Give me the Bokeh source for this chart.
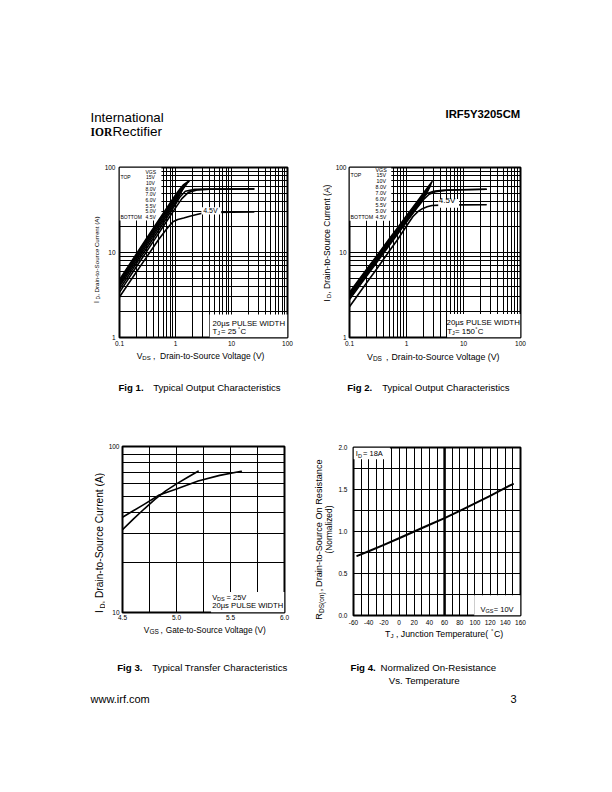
import math
from bokeh.plotting import figure
from bokeh.models import FixedTicker, CustomJSTickFormatter, Label, Span
from bokeh.layouts import row, column
from bokeh.embed import file_html
from bokeh.resources import INLINE

FONT = "Liberation Sans"
ROT = math.pi / 2

# ---------------- data: Fig 1 (TJ = 25 C) ----------------
VDS_25_15V = [0.1, 0.2, 0.3, 0.5, 0.7, 1.0, 1.2, 1.4, 1.6, 1.75]
ID_25_15V = [4.8, 9.6, 14.4, 24.0, 33.5, 47.5, 56.0, 63.0, 67.0, 69.0]
VDS_25_10V = [0.1, 0.2, 0.3, 0.5, 0.7, 1.0, 1.2, 1.4, 1.55, 1.7]
ID_25_10V = [4.6, 9.2, 13.8, 23.0, 32.0, 45.5, 54.0, 61.0, 65.0, 67.5]
VDS_25_8V = [0.1, 0.2, 0.3, 0.5, 0.7, 1.0, 1.2, 1.4, 1.6]
ID_25_8V = [4.4, 8.8, 13.2, 22.0, 30.6, 43.5, 52.0, 59.0, 64.5]
VDS_25_7V = [0.1, 0.2, 0.3, 0.5, 0.7, 1.0, 1.2, 1.4, 1.55]
ID_25_7V = [4.2, 8.4, 12.5, 20.8, 29.0, 41.5, 50.0, 57.5, 63.0]
VDS_25_6V = [0.1, 0.2, 0.3, 0.5, 0.7, 1.0, 1.2, 1.45]
ID_25_6V = [4.0, 7.9, 11.8, 19.6, 27.4, 39.0, 48.0, 61.0]
VDS_25_5V5 = [0.1, 0.2, 0.3, 0.5, 0.7, 1.0, 1.2, 1.5, 2.2, 4.0, 10.0, 25.0]
ID_25_5V5 = [3.7, 7.4, 11.0, 18.3, 25.6, 37.0, 45.0, 52.5, 55.3, 55.6, 55.8, 56.0]
VDS_25_5V = [0.1, 0.2, 0.3, 0.5, 0.7, 1.0, 1.3, 1.7, 2.5, 4.0, 10.0, 25.0]
ID_25_5V = [3.4, 6.8, 10.1, 16.8, 23.5, 33.5, 43.0, 51.0, 54.6, 55.4, 55.7, 55.9]
VDS_25_4V5 = [0.1, 0.2, 0.3, 0.5, 0.7, 0.9, 1.1, 1.4, 1.8, 2.4, 3.0, 5.0, 10.0, 25.0]
ID_25_4V5 = [3.0, 5.9, 8.7, 14.2, 19.0, 23.0, 24.5, 25.5, 26.7, 28.0, 29.0, 29.6, 29.8, 30.0]

# ---------------- data: Fig 2 (TJ = 150 C) ----------------
VDS_150_15V = [0.1, 0.2, 0.3, 0.5, 0.7, 1.0, 1.5, 2.0, 2.5, 2.8]
ID_150_15V = [3.4, 6.35, 9.1, 14.5, 19.6, 27.0, 38.9, 50.4, 61.6, 68.0]
VDS_150_10V = [0.1, 0.2, 0.3, 0.5, 0.7, 1.0, 1.5, 2.0, 2.5, 2.7]
ID_150_10V = [3.28, 6.13, 8.78, 14.0, 18.9, 26.0, 37.5, 48.6, 59.4, 64.5]
VDS_150_8V = [0.1, 0.2, 0.3, 0.5, 0.7, 1.0, 1.5, 2.0, 2.4, 2.65]
ID_150_8V = [3.16, 5.9, 8.46, 13.5, 18.2, 25.1, 36.2, 46.9, 55.5, 62.0]
VDS_150_7V = [0.1, 0.2, 0.3, 0.5, 0.7, 1.0, 1.5, 2.0, 2.3, 2.55]
ID_150_7V = [3.06, 5.7, 8.2, 13.0, 17.6, 24.3, 35.0, 45.4, 52.5, 59.0]
VDS_150_6V = [0.1, 0.2, 0.3, 0.5, 0.7, 1.0, 1.5, 2.0, 2.3, 2.45]
ID_150_6V = [2.96, 5.5, 7.9, 12.6, 17.0, 23.5, 33.8, 43.8, 51.0, 56.0]
VDS_150_5V5 = [0.1, 0.2, 0.3, 0.5, 0.7, 1.0, 1.5, 1.9, 2.3, 3.0, 4.2, 8.0, 25.0]
ID_150_5V5 = [3.1, 5.8, 8.3, 13.2, 17.8, 24.5, 35.5, 44.0, 49.5, 52.5, 53.8, 54.8, 55.5]
VDS_150_5V = [0.1, 0.2, 0.3, 0.5, 0.7, 1.0, 1.5, 2.0, 2.5, 3.2, 5.0, 10.0, 25.0]
ID_150_5V = [2.8, 5.3, 7.6, 12.2, 16.5, 22.8, 33.0, 42.0, 48.5, 52.0, 54.0, 54.8, 55.4]
VDS_150_4V5 = [0.1, 0.2, 0.3, 0.5, 0.7, 1.0, 1.3, 1.6, 1.9, 2.3, 2.8, 4.0, 8.0, 25.0]
ID_150_4V5 = [2.3, 4.4, 6.4, 10.4, 14.2, 20.5, 26.5, 30.5, 32.8, 34.5, 35.7, 36.1, 36.3, 36.5]

# ---------------- data: Fig 3 (transfer) ----------------
VGS_TJ25 = [4.5, 4.6, 4.7, 4.8, 4.9, 5.0, 5.1, 5.2]
ID_TJ25 = [31.6, 36.5, 42.0, 48.0, 54.0, 59.5, 65.0, 71.0]
VGS_TJ150 = [4.5, 4.6, 4.7, 4.84, 5.0, 5.2, 5.4, 5.6]
ID_TJ150 = [37.5, 41.0, 44.8, 51.0, 55.5, 62.0, 67.0, 71.0]

# ---------------- data: Fig 4 (normalized RDS(on)) ----------------
TJ_C = [-55, -40, -20, 0, 20, 40, 60, 80, 100, 120, 140, 150]
RDS_NORM = [0.71, 0.765, 0.84, 0.92, 1.0, 1.08, 1.16, 1.245, 1.335, 1.425, 1.52, 1.565]

# ---------------- ticks ----------------
LOG_X_MAJOR = [0.1, 1, 10, 100]
LOG_X_MINOR = [0.2, 0.3, 0.4, 0.5, 0.6, 0.7, 0.8, 0.9, 2, 3, 4, 5, 6, 7, 8, 9,
               20, 30, 40, 50, 60, 70, 80, 90]
LOG_Y_MAJOR = [1, 10, 100]
LOG_Y_MINOR = [2, 3, 4, 5, 6, 7, 8, 9, 20, 30, 40, 50, 60, 70, 80, 90]
F3_X_MAJOR = [4.5, 5.0, 5.5, 6.0]
F3_X_MINOR = [4.75, 5.25, 5.75]
F3_Y_MAJOR = [10, 100]
F3_Y_MINOR = [20, 30, 40, 50, 60, 70, 80, 90]
F4_X_MAJOR = [-60, -40, -20, 0, 20, 40, 60, 80, 100, 120, 140, 160]
F4_X_MINOR = [-50, -30, -10, 10, 30, 50, 70, 90, 110, 130, 150]
F4_Y_MAJOR = [0.0, 0.5, 1.0, 1.5, 2.0]
F4_Y_MINOR = [0.25, 0.75, 1.25, 1.75]


def make_fig(w, h, mbl, mbr, mbt, mbb, xr, yr, xt="linear", yt="linear"):
    p = figure(width=w, height=h, x_range=xr, y_range=yr, x_axis_type=xt, y_axis_type=yt,
               output_backend="svg", toolbar_location=None,
               min_border_left=mbl, min_border_right=mbr,
               min_border_top=mbt, min_border_bottom=mbb)
    p.background_fill_color = "white"
    p.border_fill_color = "white"
    p.outline_line_color = "black"
    p.outline_line_width = 2
    return p


def strip(w, h):
    p = figure(width=w, height=h, x_range=(0, w), y_range=(h, 0),
               output_backend="svg", toolbar_location=None,
               x_axis_location=None, y_axis_location=None, min_border=0)
    p.outline_line_color = None
    p.grid.visible = False
    p.background_fill_color = "white"
    p.border_fill_color = "white"
    return p


def style(p, xmaj, xmin, ymaj, ymin, xfmt, yfmt, xst=3, yst=4, fs="6.5px"):
    p.xaxis[0].ticker = FixedTicker(ticks=xmaj, minor_ticks=xmin)
    p.yaxis[0].ticker = FixedTicker(ticks=ymaj, minor_ticks=ymin)
    p.xaxis[0].formatter = CustomJSTickFormatter(code=xfmt)
    p.yaxis[0].formatter = CustomJSTickFormatter(code=yfmt)
    for ax in (p.xaxis[0], p.yaxis[0]):
        ax.axis_line_color = None
        ax.major_tick_line_color = None
        ax.minor_tick_line_color = None
        ax.major_tick_in = 0
        ax.major_tick_out = 0
        ax.minor_tick_in = 0
        ax.minor_tick_out = 0
        ax.major_label_text_font = FONT
        ax.major_label_text_font_size = fs
        ax.major_label_text_color = "black"
    p.xaxis[0].major_label_standoff = xst
    p.yaxis[0].major_label_standoff = yst
    for g in (p.xgrid[0], p.ygrid[0]):
        g.grid_line_color = "black"
        g.grid_line_width = 1
        g.minor_grid_line_color = "black"
        g.minor_grid_line_width = 1


def mask(p, l, r, b, t):
    p.quad(left=[l], right=[r], bottom=[b], top=[t], fill_color="white", line_color=None)


def curve(p, xs, ys, w=1.6):
    p.line(xs, ys, line_color="black", line_width=w, line_join="round", line_cap="round")


def add_text(p, origin, items):
    ox, oy = origin
    for it in items:
        px, py, text, size = it[:4]
        o = it[4] if len(it) > 4 else {}
        p.add_layout(Label(x=px - ox, y=py - oy, x_units="canvas", y_units="canvas",
                           text=text, text_font=o.get("font", FONT),
                           text_font_size=f"{size}px",
                           text_font_style=o.get("style", "normal"),
                           text_align=o.get("align", "left"), text_baseline="middle",
                           angle=o.get("angle", 0), text_color="black"))


B = {"style": "bold"}
RL = {"angle": ROT, "align": "left"}
RC = {"angle": ROT, "align": "center"}

# ================= header =================
hdr = strip(604, 150)
add_text(hdr, (0, 0), [
    (90, 117, "International", 13.3),
    (90, 131, "IOR", 11.5, {"style": "bold", "font": "Liberation Serif"}),
    (112, 131, "Rectifier", 13.5),
    (445, 113, "IRF5Y3205CM", 11.3, B),
])

# ================= Fig 1 =================
L1 = strip(101, 199)
add_text(L1, (0, 150), [
    (96, 301.5, "I", 6.8, RC), (97.9, 297.3, "D", 4.8, RC), (96, 294.3, ",", 6.2, RC),
    (96, 292, "Drain-to-Source Current (A)", 6.2, RL),
])
p1 = make_fig(205, 199, 16, 19, 17, 12, (0.1, 100), (1, 100), "log", "log")
style(p1, LOG_X_MAJOR, LOG_X_MINOR, LOG_Y_MAJOR, LOG_Y_MINOR,
      "return tick.toString();", "return tick.toString();", xst=3, yst=4)
mask(p1, 0.1, 0.56, 23.8, 100)
mask(p1, 4.07, 100, 1, 1.86)
for xs, ys in [(VDS_25_15V, ID_25_15V), (VDS_25_10V, ID_25_10V), (VDS_25_8V, ID_25_8V),
               (VDS_25_7V, ID_25_7V), (VDS_25_6V, ID_25_6V), (VDS_25_5V5, ID_25_5V5),
               (VDS_25_5V, ID_25_5V), (VDS_25_4V5, ID_25_4V5)]:
    curve(p1, xs, ys)
mask(p1, 2.9, 6.55, 28.0, 34.1)
add_text(p1, (101, 150), [
    (145, 171, "VGS", 5), (120, 176.7, "TOP", 5), (145.5, 176.7, "15V", 5),
    (145.5, 182.4, "10V", 5), (145, 188.1, "8.0V", 5), (145, 193.8, "7.0V", 5),
    (145, 199.5, "6.0V", 5), (145, 205.2, "5.5V", 5), (145, 210.9, "5.0V", 5),
    (120, 216.6, "BOTTOM", 5), (145, 216.6, "4.5V", 5),
    (202.7, 210.3, "4.5V", 7),
    (212, 322.7, "20\u00b5s PULSE WIDTH", 7.8),
    (212, 330.7, "T", 7.8), (216.8, 332.3, "J", 5.5), (220.5, 330.7, "= 25", 7.8),
    (237.5, 328.3, "\u00b0", 5.5), (240, 330.7, "C", 7.8),
])

# ================= Fig 2 =================
L2 = strip(26, 199)
add_text(L2, (306, 150), [
    (326.2, 300, "I", 8.5, RC), (328.3, 295.5, "D", 6, RC), (326.2, 291.7, ",", 8.5, RC),
    (326.2, 288.5, "Drain-to-Source Current (A)", 8.5, RL),
])
p2 = make_fig(272, 199, 14, 84, 14, 12, (0.1, 100), (1, 100), "log", "log")
style(p2, LOG_X_MAJOR, LOG_X_MINOR, LOG_Y_MAJOR, LOG_Y_MINOR,
      "return tick.toString();", "return tick.toString();", xst=3, yst=3)
mask(p2, 0.1, 0.54, 23.6, 100)
mask(p2, 5.16, 100, 1, 1.89)
for xs, ys in [(VDS_150_15V, ID_150_15V), (VDS_150_10V, ID_150_10V), (VDS_150_8V, ID_150_8V),
               (VDS_150_7V, ID_150_7V), (VDS_150_6V, ID_150_6V), (VDS_150_5V5, ID_150_5V5),
               (VDS_150_5V, ID_150_5V), (VDS_150_4V5, ID_150_4V5)]:
    curve(p2, xs, ys)
mask(p2, 3.6, 8.4, 33.6, 42.7)
ly = [169 + i * 5.875 for i in range(9)]
add_text(p2, (332, 150), [
    (375, ly[0], "VGS", 5.3), (350, ly[1], "TOP", 5.3), (376, ly[1], "15V", 5.3),
    (376, ly[2], "10V", 5.3), (375, ly[3], "8.0V", 5.3), (375, ly[4], "7.0V", 5.3),
    (375, ly[5], "6.0V", 5.3), (375, ly[6], "5.5V", 5.3), (375, ly[7], "5.0V", 5.3),
    (350, ly[8], "BOTTOM", 5.3), (375, ly[8], "4.5V", 5.3),
    (438.3, 200.3, "4.5V", 8),
    (446, 322, "20\u00b5s PULSE WIDTH", 7.9),
    (446.7, 330.7, "T", 7.9), (451.5, 332.3, "J", 5.5), (454.5, 330.7, "= 150", 7.9),
    (474.8, 328.3, "\u00b0", 5.5), (477.3, 330.7, "C", 7.9),
])

# ================= strip under row 1 =================
S1 = strip(604, 49)
add_text(S1, (0, 349), [
    (136.3, 355, "V", 8.5), (141.8, 357, "DS", 6), (152.5, 355, ",", 8.5),
    (159.5, 355, "Drain-to-Source Voltage (V)", 8.5),
    (118, 386.5, "Fig 1.", 9.6, B), (152.7, 386.5, "Typical Output Characteristics", 9.6),
    (366.5, 356, "V", 8.8), (372.4, 358, "DS", 6.5), (385.5, 356, ",", 8.8),
    (391, 356, "Drain-to-Source Voltage (V)", 8.8),
    (346.7, 387, "Fig 2.", 9.6, B), (381.7, 387, "Typical Output Characteristics", 9.6),
])

# ================= Fig 3 =================
L3 = strip(105, 247)
add_text(L3, (0, 398), [
    (99, 611, "I", 10, RC), (101.5, 605.5, "D", 7, RC), (99, 601.5, ",", 10, RC),
    (99, 597.5, "Drain-to-Source Current (A)", 10.2, RL),
])
p3 = make_fig(201, 225, 15, 22, 48, 11, (4.5, 6.0), (10, 100), "linear", "log")
style(p3, F3_X_MAJOR, F3_X_MINOR, F3_Y_MAJOR, F3_Y_MINOR,
      "return tick.toFixed(1);", "return tick.toString();", xst=2, yst=3)
mask(p3, 5.32, 6.0, 10, 13.3)
curve(p3, VGS_TJ25, ID_TJ25)
curve(p3, VGS_TJ150, ID_TJ150)
add_text(p3, (105, 398), [
    (211.7, 596.5, "V", 7.5), (216.6, 598.2, "DS", 5.5), (226, 596.5, "= 25V", 7.5),
    (211.7, 604.5, "20\u00b5s PULSE WIDTH", 7.65),
])
S3 = strip(201, 22)
add_text(S3, (105, 623), [
    (143.3, 629.3, "V", 8.3), (148.9, 631.3, "GS", 6.5), (160, 629.3, ",", 8.3),
    (165.3, 629.3, "Gate-to-Source Voltage (V)", 8.3),
])

# ================= Fig 4 =================
L4 = strip(29, 247)
add_text(L4, (306, 398), [
    (318.3, 616, "R", 9.2, RC), (320.5, 612.5, "DS(on)", 6.5, RL), (318.3, 589.5, ",", 9.2, RC),
    (318.3, 586.5, "Drain-to-Source On Resistance", 9.2, RL),
    (328.3, 529, "(Normalized)", 8.4, RC),
])
p4 = make_fig(269, 229, 17, 84, 49, 12, (-60, 160), (0, 2.0))
style(p4, F4_X_MAJOR, F4_X_MINOR, F4_Y_MAJOR, F4_Y_MINOR,
      "return tick.toFixed(0);", "return tick.toFixed(1);", xst=4, yst=6)
mask(p4, -60, -12, 1.86, 2.0)
mask(p4, 99, 160, 0, 0.24)
p4.add_layout(Span(location=60, dimension="height", line_color="black", line_width=2.5))
curve(p4, TJ_C, RDS_NORM, w=2)
add_text(p4, (335, 398), [
    (355.2, 453.3, "I", 7.5), (357.5, 455, "D", 5.5), (362.5, 453.3, "= 18A", 7.5),
    (480, 608.7, "V", 7.5), (485, 610.4, "GS", 5.5), (493.3, 608.7, "= 10V", 7.5),
])
S4 = strip(269, 18)
add_text(S4, (335, 627), [
    (384.5, 633.3, "T", 8.8), (390, 635.3, "J", 6.2), (395.5, 633.3, ",", 8.8),
    (400.3, 633.3, "Junction Temperature(", 8.8), (490.5, 630.3, "\u00b0", 6),
    (493.5, 633.3, "C)", 8.8),
])

# ================= bottom strip =================
S5 = strip(604, 75)
add_text(S5, (0, 645), [
    (116.7, 666.7, "Fig 3.", 9.7, B), (151.7, 666.7, "Typical Transfer Characteristics", 9.7),
    (350, 666.7, "Fig 4.", 9.7, B), (380, 666.7, "Normalized On-Resistance", 9.7),
    (388.3, 680.3, "Vs. Temperature", 9.7),
    (90, 698, "www.irf.com", 11),
    (510, 698, "3", 11),
])

layout = column(
    hdr,
    row(L1, p1, L2, p2),
    S1,
    row(L3, column(p3, S3), L4, column(p4, S4)),
    S5,
)
open("out.html", "w").write(file_html(layout, INLINE, title="IRF5Y3205CM"))
